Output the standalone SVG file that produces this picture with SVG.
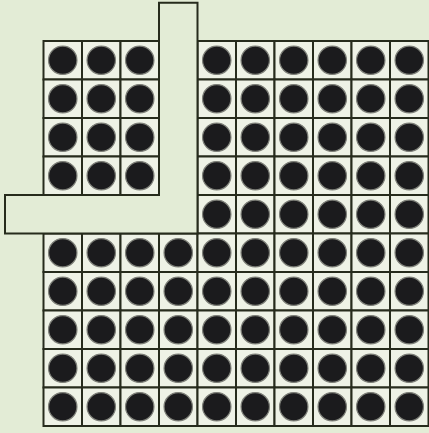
<svg xmlns="http://www.w3.org/2000/svg" xmlns:xlink="http://www.w3.org/1999/xlink" width="429" height="433" viewBox="0 0 429 433">
<defs>
<style>
.bg{fill:#e3ecd6}
.frame{fill:#e3ecd6;stroke:#262b1c;stroke-width:2}
</style>
<g id="cell">
<rect x="0" y="0" width="38.5" height="38.5" fill="#eef2e6" stroke="#262b1c" stroke-width="2"/>
<circle cx="19.25" cy="19.25" r="14.2" fill="#1b1b1d" stroke="#7d7f78" stroke-width="1.2"/>
</g>
</defs>
<rect class="bg" x="0" y="0" width="429" height="433"/>
<g id="grid">
<g id="row0">
<use id="c0-0" href="#cell" x="43.5" y="41"/><use id="c0-1" href="#cell" x="82" y="41"/><use id="c0-2" href="#cell" x="120.5" y="41"/>
<use id="c0-4" href="#cell" x="197.5" y="41"/><use id="c0-5" href="#cell" x="236" y="41"/><use id="c0-6" href="#cell" x="274.5" y="41"/><use id="c0-7" href="#cell" x="313" y="41"/><use id="c0-8" href="#cell" x="351.5" y="41"/><use id="c0-9" href="#cell" x="390" y="41"/>
</g>
<g id="row1">
<use id="c1-0" href="#cell" x="43.5" y="79.5"/><use id="c1-1" href="#cell" x="82" y="79.5"/><use id="c1-2" href="#cell" x="120.5" y="79.5"/>
<use id="c1-4" href="#cell" x="197.5" y="79.5"/><use id="c1-5" href="#cell" x="236" y="79.5"/><use id="c1-6" href="#cell" x="274.5" y="79.5"/><use id="c1-7" href="#cell" x="313" y="79.5"/><use id="c1-8" href="#cell" x="351.5" y="79.5"/><use id="c1-9" href="#cell" x="390" y="79.5"/>
</g>
<g id="row2">
<use id="c2-0" href="#cell" x="43.5" y="118"/><use id="c2-1" href="#cell" x="82" y="118"/><use id="c2-2" href="#cell" x="120.5" y="118"/>
<use id="c2-4" href="#cell" x="197.5" y="118"/><use id="c2-5" href="#cell" x="236" y="118"/><use id="c2-6" href="#cell" x="274.5" y="118"/><use id="c2-7" href="#cell" x="313" y="118"/><use id="c2-8" href="#cell" x="351.5" y="118"/><use id="c2-9" href="#cell" x="390" y="118"/>
</g>
<g id="row3">
<use id="c3-0" href="#cell" x="43.5" y="156.5"/><use id="c3-1" href="#cell" x="82" y="156.5"/><use id="c3-2" href="#cell" x="120.5" y="156.5"/>
<use id="c3-4" href="#cell" x="197.5" y="156.5"/><use id="c3-5" href="#cell" x="236" y="156.5"/><use id="c3-6" href="#cell" x="274.5" y="156.5"/><use id="c3-7" href="#cell" x="313" y="156.5"/><use id="c3-8" href="#cell" x="351.5" y="156.5"/><use id="c3-9" href="#cell" x="390" y="156.5"/>
</g>
<g id="row4">
<use id="c4-4" href="#cell" x="197.5" y="195"/><use id="c4-5" href="#cell" x="236" y="195"/><use id="c4-6" href="#cell" x="274.5" y="195"/><use id="c4-7" href="#cell" x="313" y="195"/><use id="c4-8" href="#cell" x="351.5" y="195"/><use id="c4-9" href="#cell" x="390" y="195"/>
</g>
<g id="row5">
<use id="c5-0" href="#cell" x="43.5" y="233.5"/><use id="c5-1" href="#cell" x="82" y="233.5"/><use id="c5-2" href="#cell" x="120.5" y="233.5"/><use id="c5-3" href="#cell" x="159" y="233.5"/><use id="c5-4" href="#cell" x="197.5" y="233.5"/><use id="c5-5" href="#cell" x="236" y="233.5"/><use id="c5-6" href="#cell" x="274.5" y="233.5"/><use id="c5-7" href="#cell" x="313" y="233.5"/><use id="c5-8" href="#cell" x="351.5" y="233.5"/><use id="c5-9" href="#cell" x="390" y="233.5"/>
</g>
<g id="row6">
<use id="c6-0" href="#cell" x="43.5" y="272"/><use id="c6-1" href="#cell" x="82" y="272"/><use id="c6-2" href="#cell" x="120.5" y="272"/><use id="c6-3" href="#cell" x="159" y="272"/><use id="c6-4" href="#cell" x="197.5" y="272"/><use id="c6-5" href="#cell" x="236" y="272"/><use id="c6-6" href="#cell" x="274.5" y="272"/><use id="c6-7" href="#cell" x="313" y="272"/><use id="c6-8" href="#cell" x="351.5" y="272"/><use id="c6-9" href="#cell" x="390" y="272"/>
</g>
<g id="row7">
<use id="c7-0" href="#cell" x="43.5" y="310.5"/><use id="c7-1" href="#cell" x="82" y="310.5"/><use id="c7-2" href="#cell" x="120.5" y="310.5"/><use id="c7-3" href="#cell" x="159" y="310.5"/><use id="c7-4" href="#cell" x="197.5" y="310.5"/><use id="c7-5" href="#cell" x="236" y="310.5"/><use id="c7-6" href="#cell" x="274.5" y="310.5"/><use id="c7-7" href="#cell" x="313" y="310.5"/><use id="c7-8" href="#cell" x="351.5" y="310.5"/><use id="c7-9" href="#cell" x="390" y="310.5"/>
</g>
<g id="row8">
<use id="c8-0" href="#cell" x="43.5" y="349"/><use id="c8-1" href="#cell" x="82" y="349"/><use id="c8-2" href="#cell" x="120.5" y="349"/><use id="c8-3" href="#cell" x="159" y="349"/><use id="c8-4" href="#cell" x="197.5" y="349"/><use id="c8-5" href="#cell" x="236" y="349"/><use id="c8-6" href="#cell" x="274.5" y="349"/><use id="c8-7" href="#cell" x="313" y="349"/><use id="c8-8" href="#cell" x="351.5" y="349"/><use id="c8-9" href="#cell" x="390" y="349"/>
</g>
<g id="row9">
<use id="c9-0" href="#cell" x="43.5" y="387.5"/><use id="c9-1" href="#cell" x="82" y="387.5"/><use id="c9-2" href="#cell" x="120.5" y="387.5"/><use id="c9-3" href="#cell" x="159" y="387.5"/><use id="c9-4" href="#cell" x="197.5" y="387.5"/><use id="c9-5" href="#cell" x="236" y="387.5"/><use id="c9-6" href="#cell" x="274.5" y="387.5"/><use id="c9-7" href="#cell" x="313" y="387.5"/><use id="c9-8" href="#cell" x="351.5" y="387.5"/><use id="c9-9" href="#cell" x="390" y="387.5"/>
</g>
</g>
<g id="L-strip">
<polygon class="frame" points="159,2.7 197.5,2.7 197.5,233.5 5,233.5 5,195 159,195"/>
</g>
</svg>
